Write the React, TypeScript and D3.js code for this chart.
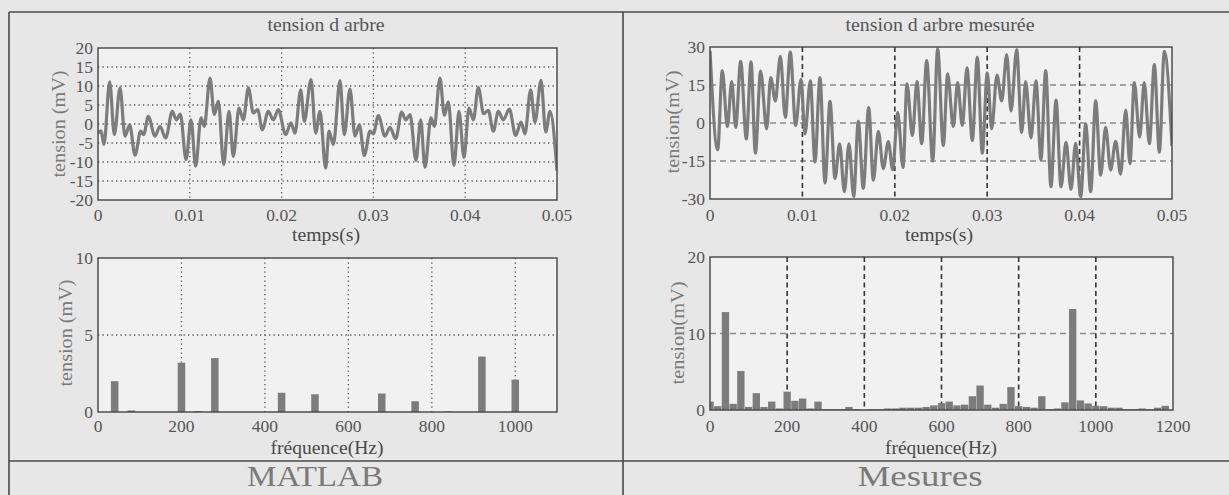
import React from "react";
import * as d3 from "d3";

// ---------- DATA ----------
// Simulated shaft voltage (MATLAB), time in ms, tension in mV
const matlabTimeMs = [
  0.0, 0.33, 0.65, 1.27, 1.78, 2.4, 2.94, 3.45, 4.03, 4.65, 4.97, 5.48, 6.21, 6.75, 7.37, 8.1, 8.53, 8.97,
  9.59, 10.13, 10.64, 11.22, 11.58, 12.2, 12.67, 13.11, 13.69, 14.27, 14.74, 15.36, 15.83, 16.38, 16.92,
  17.39, 17.9, 18.55, 19.1, 19.64, 20.44, 21.02, 21.46, 22.08, 22.48, 23.2, 23.71, 24.18, 24.8,
  25.16, 25.64, 26.36, 26.83, 27.45, 28.0, 28.47, 29.01, 29.63, 29.99, 30.54, 31.26, 31.81, 32.43, 33.08,
  33.52, 33.99, 34.64, 35.15, 35.62, 36.27, 36.64, 37.25, 37.73, 38.16, 38.78, 39.32, 39.87, 40.41, 40.89,
  41.43, 42.01, 42.52, 43.06, 43.61, 44.15, 44.81, 45.5, 46.08, 46.51, 47.13, 47.6, 48.26, 48.77, 49.24, 50.0,
];
const matlabTension = [
  -2.4, -1.8, -5.4, 11.1, -2.8, 9.5, -3.2, -0.2, -8.2, -1.9, -2.8, 2.0, -3.2, -0.6, -3.7, 3.3, 1.1, 2.6,
  -9.4, 1.1, -11.1, 1.6, -0.6, 12.1, 2.5, 6.0, -10.7, 3.3, -8.5, 4.2, 1.1, 9.5, 2.9,
  3.8, -1.5, 3.3, 1.1, 3.8, -2.8, 0.3, -2.4, 9.0, 0.7, 11.7, -2.4, 3.3, -11.6,
  -1.9, -5.4, 11.4, -2.8, 9.2, -3.2, -0.2, -8.3, -1.9, -2.6, 2.2, -3.2, -0.9, -3.9, 3.1,
  1.1, 2.5, -9.6, 1.1, -11.4, 1.6, -0.6, 12.1, 2.3, 5.8, -10.9, 3.3, -8.8, 4.2, 1.1,
  9.6, 2.7, 3.6, -1.9, 3.3, 1.1, 3.9, -3.0, 0.5, -2.6, 9.0, 0.5, 11.5, -2.1, 3.3, -12.3,
];

// Measured shaft voltage, time in ms, tension in mV
const measuredTimeMs = [
  0.0, 0.83, 1.33, 1.88, 2.35, 2.78, 3.32, 3.93, 4.44, 4.91, 5.48, 6.13, 6.57, 7.07, 7.61, 8.15, 8.69,
  9.27, 9.85, 10.28, 10.86, 11.36, 11.9, 12.45, 12.99, 13.53, 14.03, 14.54, 15.04, 15.55, 16.05, 16.59,
  17.17, 17.68, 18.22, 18.76, 19.3, 19.77, 20.31, 20.89, 21.32, 21.9, 22.4, 22.91, 23.45, 24.1, 24.64,
  25.25, 25.72, 26.33, 26.8, 27.31, 27.81, 28.39, 28.93, 29.47, 30.01, 30.48, 31.06, 31.57, 32.11, 32.58,
  33.19, 33.73, 34.16, 34.74, 35.28, 35.82, 36.33, 36.9, 37.45, 37.99, 38.53, 39.07, 39.57, 40.12, 40.66,
  41.2, 41.74, 42.28, 42.82, 43.36, 43.9, 44.44, 44.99, 45.45, 45.92, 46.5, 47.0, 47.55, 48.09, 48.63,
  49.17, 50.0,
];
const measuredTension = [
  28.5, -10.6, 20.7, -1.4, 16.3, -1.7, 24.3, -6.3, 24.1, -11.9, 20.5, -2.3, 17.9, 8.7, 26.3, 2.2, 28.0,
  -1.0, 17.2, -4.3, 16.6, -15.4, 17.9, -23.6, 8.5, -21.9, -8.2, -27.1, -8.2, -29.0, 0.7, -25.8,
  6.1, -22.6, -3.3, -18.0, -7.3, -18.4, 4.2, -17.6, 15.5, -5.0, 16.3, -8.2, 24.6, -15.0, 29.3,
  -8.9, 19.4, -1.4, 15.9, -1.0, 21.8, -6.9, 25.9, -11.9, 19.8, -2.3, 18.9, 8.7, 27.0, 4.8,
  29.0, -3.7, 16.3, -5.9, 16.6, -14.5, 20.7, -25.2, 9.0, -25.2, -7.6, -26.2, -8.0, -29.1, -0.4,
  -27.1, 8.7, -20.6, -1.7, -18.6, -7.2, -20.2, 5.1, -16.0, 15.9, -5.6, 15.9, -8.2, 23.1, -11.5,
  28.3, -9.0,
];

// MATLAB spectrum
const matlabFreqHz = [40, 80, 200, 240, 280, 440, 520, 680, 760, 840, 920, 1000];
const matlabAmp = [2.0, 0.1, 3.2, 0.05, 3.5, 1.25, 1.15, 1.2, 0.7, 0.03, 3.6, 2.1];

// Measured spectrum
const measuredFreqHz = [
  0, 20, 40, 60, 80, 100, 120, 140, 160, 180, 200, 220, 240, 260, 280, 300, 320, 340, 360, 380, 400, 420,
  440, 460, 480, 500, 520, 540, 560, 580, 600, 620, 640, 660, 680, 700, 720, 740, 760, 780, 800, 820, 840,
  860, 880, 900, 920, 940, 960, 980, 1000, 1020, 1040, 1060, 1080, 1100, 1120, 1140, 1160, 1180,
];
const measuredAmp = [
  1.1, 0.5, 12.8, 0.8, 5.1, 0.4, 2.2, 0.4, 1.1, 0.2, 2.4, 1.2, 1.5, 0.2, 1.1, 0.1, 0.1, 0.1, 0.4, 0.1, 0.05, 0.1,
  0.1, 0.2, 0.2, 0.3, 0.3, 0.3, 0.4, 0.6, 0.9, 1.1, 0.6, 0.7, 1.8, 3.2, 0.7, 0.3, 0.8, 3.0, 0.5, 0.4, 0.3,
  1.8, 0.1, 0.2, 1.0, 13.2, 1.25, 0.85, 0.55, 0.5, 0.3, 0.3, 0.1, 0.1, 0.2, 0.1, 0.3, 0.55,
];

// Ticks
const timeTicksMs = [0, 10, 20, 30, 40, 50];
const timeTickLabels = ["0", "0.01", "0.02", "0.03", "0.04", "0.05"];
const matlabTensionTicks = [-20, -15, -10, -5, 0, 5, 10, 15, 20];
const measuredTensionTicks = [-30, -15, 0, 15, 30];
const matlabFreqTicks = [0, 200, 400, 600, 800, 1000];
const measuredFreqTicks = [0, 200, 400, 600, 800, 1000, 1200];
const matlabAmpTicks = [0, 5, 10];
const measuredAmpTicks = [0, 10, 20];

// ---------- STYLE ----------
const FONT = "'Liberation Serif', 'Times New Roman', serif";
const BG = "#e7e7e7";
const PLOT_BG = "#f1f1f1";
const LINE = "#7c7c7c";
const TEXT = "#555";

type GridStyle = "dotted" | "dashed";

interface PanelProps {
  id: string;
  x0: number; x1: number; y0: number; y1: number;
  xDomain: [number, number];
  yDomain: [number, number];
  xTicks: number[];
  xTickLabels?: string[];
  yTicks: number[];
  gridX: number[];
  gridY: number[];
  grid: GridStyle;
  title?: string;
  titleX?: number;
  titleLen?: number;
  xlabel: string;
  xlabelX: number;
  xlabelY: number;
  xlabelLen: number;
  xTickY: number;
  ylabel: string;
  ylabelX: number;
  ylabelY: number;
  ylabelLen: number;
  line?: { t: number[]; v: number[] };
  bars?: { f: number[]; a: number[]; width: number };
}

function Panel(p: PanelProps) {
  const xs = d3.scaleLinear().domain(p.xDomain).range([p.x0, p.x1]);
  const ys = d3.scaleLinear().domain(p.yDomain).range([p.y1, p.y0]);
  const clipId = "clip-" + p.id;

  let path: string | null = null;
  if (p.line) {
    const pts: [number, number][] = p.line.t.map((t, i) => [t, p.line!.v[i]]);
    const gen = d3
      .line<[number, number]>()
      .x((d) => xs(d[0]))
      .y((d) => ys(d[1]))
      .curve(d3.curveMonotoneX);
    path = gen(pts);
  }

  const hGridStyle =
    p.grid === "dotted"
      ? { stroke: "#555", strokeWidth: 1.3, strokeDasharray: "1.3 3.2" }
      : { stroke: "#8a8a8a", strokeWidth: 1.3, strokeDasharray: "6 4" };
  const vGridStyle =
    p.grid === "dotted"
      ? { stroke: "#555", strokeWidth: 1.3, strokeDasharray: "1.3 3.2" }
      : { stroke: "#333", strokeWidth: 1.6, strokeDasharray: "5 3.5" };

  return (
    <g>
      <defs>
        <clipPath id={clipId}>
          <rect x={p.x0} y={p.y0} width={p.x1 - p.x0} height={p.y1 - p.y0} />
        </clipPath>
      </defs>
      <rect x={p.x0} y={p.y0} width={p.x1 - p.x0} height={p.y1 - p.y0} fill={PLOT_BG} />
      {p.gridY.map((v) => (
        <line key={"gy" + v} x1={p.x0} x2={p.x1} y1={ys(v)} y2={ys(v)} {...hGridStyle} />
      ))}
      {p.gridX.map((v) => (
        <line key={"gx" + v} x1={xs(v)} x2={xs(v)} y1={p.y0} y2={p.y1} {...vGridStyle} />
      ))}
      <g clipPath={`url(#${clipId})`}>
        {path && (
          <path d={path} fill="none" stroke={LINE} strokeWidth={3.2} strokeLinejoin="round" />
        )}
        {p.bars &&
          p.bars.f.map((f, i) => {
            const a = p.bars!.a[i];
            const w = xs(f + p.bars!.width / 2) - xs(f - p.bars!.width / 2);
            return (
              <rect
                key={"b" + i}
                x={xs(f - p.bars!.width / 2)}
                y={ys(a)}
                width={w}
                height={Math.max(0, ys(0) - ys(a))}
                fill={LINE}
              />
            );
          })}
      </g>
      <rect
        x={p.x0}
        y={p.y0}
        width={p.x1 - p.x0}
        height={p.y1 - p.y0}
        fill="none"
        stroke="#444"
        strokeWidth={1.4}
      />
      {p.xTicks.map((t, i) => (
        <text
          key={"xt" + t}
          x={xs(t)}
          y={p.xTickY}
          textAnchor="middle"
          fontFamily={FONT}
          fontSize={17.5}
          fill={TEXT}
        >
          {p.xTickLabels ? p.xTickLabels[i] : String(t)}
        </text>
      ))}
      {p.yTicks.map((t) => (
        <text
          key={"yt" + t}
          x={p.x0 - 5}
          y={ys(t)}
          dy="0.36em"
          textAnchor="end"
          fontFamily={FONT}
          fontSize={17.5}
          fill={TEXT}
        >
          {String(t)}
        </text>
      ))}
      {p.title && (
        <text
          x={p.titleX}
          y={31}
          textAnchor="middle"
          fontFamily={FONT}
          fontSize={19}
          fill={TEXT}
          textLength={p.titleLen}
          lengthAdjust="spacingAndGlyphs"
        >
          {p.title}
        </text>
      )}
      <text
        x={p.xlabelX}
        y={p.xlabelY}
        textAnchor="middle"
        fontFamily={FONT}
        fontSize={19}
        fill="#4a4a4a"
        textLength={p.xlabelLen}
        lengthAdjust="spacingAndGlyphs"
      >
        {p.xlabel}
      </text>
      <text
        transform={`translate(${p.ylabelX},${p.ylabelY}) rotate(-90)`}
        textAnchor="middle"
        dy="0.35em"
        fontFamily={FONT}
        fontSize={19}
        fill="#7a7a7a"
        textLength={p.ylabelLen}
        lengthAdjust="spacingAndGlyphs"
      >
        {p.ylabel}
      </text>
    </g>
  );
}

export default function App() {
  const W = 1229;
  const H = 495;
  return (
    <svg
      width={W}
      height={H}
      style={{ position: "absolute", left: 0, top: 0, display: "block" }}
    >
      <rect x={0} y={0} width={W} height={H} fill={BG} />
      {/* table frame */}
      <g stroke="#4a4a4a" strokeWidth={1.6}>
        <line x1={9} x2={W} y1={12} y2={12} />
        <line x1={9} x2={9} y1={12} y2={H} />
        <line x1={623} x2={623} y1={12} y2={H} />
        <line x1={9} x2={W} y1={461} y2={461} />
      </g>

      <Panel
        id="tl"
        x0={98} x1={557} y0={48} y1={200}
        xDomain={[0, 50]} yDomain={[-20, 20]}
        xTicks={timeTicksMs} xTickLabels={timeTickLabels}
        yTicks={matlabTensionTicks}
        gridX={[10, 20, 30, 40]} gridY={[-15, -10, -5, 0, 5, 10, 15]}
        grid="dotted"
        title="tension d arbre" titleX={326} titleLen={117}
        xlabel="temps(s)" xlabelX={326} xlabelY={241} xlabelLen={68} xTickY={221}
        ylabel="tension (mV)" ylabelX={58} ylabelY={124} ylabelLen={107}
        line={{ t: matlabTimeMs, v: matlabTension }}
      />
      <Panel
        id="bl"
        x0={98} x1={557} y0={258} y1={412}
        xDomain={[0, 1100]} yDomain={[0, 10]}
        xTicks={matlabFreqTicks}
        yTicks={matlabAmpTicks}
        gridX={[200, 400, 600, 800, 1000]} gridY={[5]}
        grid="dotted"
        xlabel="fréquence(Hz)" xlabelX={327} xlabelY={454} xlabelLen={113} xTickY={432}
        ylabel="tension (mV)" ylabelX={65} ylabelY={333} ylabelLen={107}
        bars={{ f: matlabFreqHz, a: matlabAmp, width: 18 }}
      />
      <Panel
        id="tr"
        x0={710} x1={1172} y0={47} y1={199}
        xDomain={[0, 50]} yDomain={[-30, 30]}
        xTicks={timeTicksMs} xTickLabels={timeTickLabels}
        yTicks={measuredTensionTicks}
        gridX={[10, 20, 30, 40]} gridY={[-15, 0, 15]}
        grid="dashed"
        title="tension d arbre mesurée" titleX={940} titleLen={189}
        xlabel="temps(s)" xlabelX={939} xlabelY={241} xlabelLen={68} xTickY={221}
        ylabel="tension(mV)" ylabelX={672} ylabelY={122} ylabelLen={103}
        line={{ t: measuredTimeMs, v: measuredTension }}
      />
      <Panel
        id="br"
        x0={710} x1={1173} y0={257} y1={410}
        xDomain={[0, 1200]} yDomain={[0, 20]}
        xTicks={measuredFreqTicks}
        yTicks={measuredAmpTicks}
        gridX={[200, 400, 600, 800, 1000]} gridY={[10]}
        grid="dashed"
        xlabel="fréquence(Hz)" xlabelX={941} xlabelY={454} xlabelLen={112} xTickY={432}
        ylabel="tension(mV)" ylabelX={677} ylabelY={333} ylabelLen={103}
        bars={{ f: measuredFreqHz, a: measuredAmp, width: 19 }}
      />

      <text
        x={315} y={486} textAnchor="middle" fontFamily={FONT} fontSize={29} fill="#7a7a7a"
        textLength={136} lengthAdjust="spacingAndGlyphs"
      >
        MATLAB
      </text>
      <text
        x={920} y={486} textAnchor="middle" fontFamily={FONT} fontSize={29} fill="#7a7a7a"
        textLength={125} lengthAdjust="spacingAndGlyphs"
      >
        Mesures
      </text>
    </svg>
  );
}
